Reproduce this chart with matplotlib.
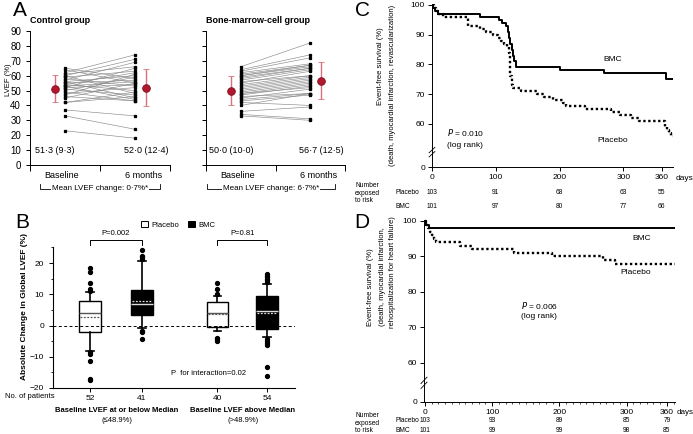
import matplotlib
matplotlib.use("Agg")
import matplotlib.pyplot as plt
import matplotlib.transforms as mtransforms
from matplotlib.lines import Line2D
from matplotlib.patches import Patch

plt.rcParams['font.family'] = ['Liberation Sans', 'DejaVu Sans']

# ---- Panel A: paired LVEF values (%)
ctrl_base = [65, 64, 62, 61, 60, 60, 59, 58, 57, 56, 56, 55, 54, 54, 53,
             53, 52, 52, 51, 50, 49, 48, 47, 46, 45, 42, 42, 37, 33, 23]
ctrl_6m = [58, 55, 74, 66, 71, 48, 63, 53, 69, 60, 45, 57, 62, 50, 56,
           44, 65, 54, 47, 59, 43, 52, 61, 43, 55, 49, 46, 33, 24, 18]
ctrl_mean = [51.3, 52.0]
ctrl_sd = [9.3, 12.4]

bmc_base = [66, 64, 63, 62, 61, 60, 60, 59, 58, 57, 56, 55, 54, 53, 52,
            51, 50, 49, 48, 48, 47, 46, 45, 44, 43, 42, 40, 36, 34, 33]
bmc_6m = [82, 74, 72, 68, 67, 67, 66, 65, 65, 64, 60, 63, 60, 59, 58,
          57, 56, 55, 54, 52, 53, 48, 51, 48, 47, 40, 48, 39, 31, 30]
bmc_mean = [50.0, 56.7]
bmc_sd = [10.0, 12.5]

# ---- Panel B: change in LVEF box plots
box_n = ['52', '41', '40', '54']
box_q1 = [-2.1, 3.4, -0.5, -1.1]
box_med = [4.0, 6.9, 4.0, 4.8]
box_q3 = [8.0, 11.4, 7.4, 9.4]
box_mean = [2.7, 7.8, 3.7, 3.9]
box_lo = [-8.0, -0.9, -1.6, -3.7]
box_hi = [10.8, 20.7, 9.6, 13.3]
box_fliers = [[18.4, 17.2, 13.6, 11.6, 11.0, -8.5, -9.0, -11.4, -17.0, -17.5],
              [24.2, 22.4, 21.9, 21.3, -1.6, -2.1, -4.3],
              [13.5, 11.7, 10.0, -3.9, -4.4, -5.1],
              [16.5, 16.0, 15.5, 15.0, 14.5, 14.0, -4.3, -4.9, -5.5, -6.1, -13.3, -16.0]]

# ---- Panel C: event-free survival (death, MI, revascularization)
c_bmc_days = [0, 2, 5, 10, 75, 105, 110, 116, 119, 121, 123, 125, 127, 129, 131, 200, 270, 367, 378]
c_bmc_surv = [100, 99, 98, 97, 96, 95, 94, 93, 91, 89, 87, 85, 83, 81, 79, 78, 77, 75, 75]
c_plc_days = [0, 3, 6, 10, 18, 57, 75, 85, 95, 103, 108, 113, 118, 120, 122, 123, 125, 127,
              140, 165, 175, 190, 205, 210, 240, 280, 295, 312, 325, 366, 369, 372, 375, 378]
c_plc_surv = [100, 99, 98, 97, 96, 93, 92, 91, 90, 89, 88, 87, 86, 84, 80, 76, 73, 72,
              71, 70, 69, 68, 67, 66, 65, 64, 63, 62, 61, 59, 58, 57, 56, 56]
c_risk_plc = [103, 91, 68, 63, 55]
c_risk_bmc = [101, 97, 80, 77, 66]

# ---- Panel D: event-free survival (death, MI, rehospitalization for HF)
d_bmc_days = [0, 2, 6, 372]
d_bmc_surv = [100, 99, 98, 98]
d_plc_days = [0, 2, 5, 8, 11, 14, 17, 52, 70, 132, 189, 265, 283, 372]
d_plc_surv = [100, 99, 98, 97, 96, 95, 94, 93, 92, 91, 90, 89, 88, 88]
d_risk_plc = [103, 93, 89, 85, 79]
d_risk_bmc = [101, 99, 99, 98, 85]

risk_days = [0, 100, 200, 300, 360]

W, H = 693, 434
fig = plt.figure(figsize=(W / 100, H / 100), dpi=100)
PX = mtransforms.Affine2D().scale(1 / W, -1 / H).translate(0, 1) + fig.transFigure


def add_ax(l, t, r, b):
    return fig.add_axes([l / W, 1 - b / H, (r - l) / W, (b - t) / H])


def px_line(xs, ys, **kw):
    fig.add_artist(Line2D(xs, ys, transform=PX, color='k', lw=0.6, **kw))


# ================= Panel A =================
def paired_panel(ax, base, six, means, sds, title, ylabels):
    for b, s in zip(base, six):
        ax.plot([0.5, 1.5], [b, s], color='#8a8a8a', lw=0.45)
    ax.plot([0.5] * len(base), base, 's', ms=1.4, color='k')
    ax.plot([1.5] * len(six), six, 's', ms=1.4, color='k')
    ax.errorbar([0.36, 1.66], means, yerr=sds, fmt='o', ms=5.5, mfc='#b3172e',
                mec='#7a0d1c', mew=0.6, ecolor='#d9727e', elinewidth=1, capsize=2.5)
    ax.set_xlim(0, 2)
    ax.set_ylim(0, 90)
    for s in ['top', 'right']:
        ax.spines[s].set_visible(False)
    for s in ['left', 'bottom']:
        ax.spines[s].set_linewidth(0.7)
    ax.set_xticks([0, 1, 2])
    ax.set_xticklabels([])
    ax.set_xticks([0.45, 1.62], minor=True)
    ax.set_xticklabels(['Baseline', '6 months'], minor=True, fontsize=6.5)
    ax.tick_params(axis='x', which='minor', length=0, pad=4)
    ax.tick_params(axis='x', which='major', length=4, width=0.7)
    ax.set_yticks(range(0, 91, 10))
    ax.tick_params(axis='y', length=3, width=0.7, labelsize=7, labelleft=ylabels)
    ax.text(0.36, 10, f"{means[0]:.1f} ({sds[0]:.1f})".replace('.', '·'),
            ha='center', va='center', fontsize=6.5)
    ax.text(1.66, 10, f"{means[1]:.1f} ({sds[1]:.1f})".replace('.', '·'),
            ha='center', va='center', fontsize=6.5)
    ax.text(0, 94, title, transform=ax.transData, fontsize=6.5, fontweight='bold',
            ha='left', va='bottom')


axA1 = add_ax(30, 31, 170, 165)
paired_panel(axA1, ctrl_base, ctrl_6m, ctrl_mean, ctrl_sd, 'Control group', True)
fig.text(8, 80, 'LVEF (%)', transform=PX, rotation=90, ha='center', va='center', fontsize=5.5)
axA2 = add_ax(206, 31, 345, 165)
paired_panel(axA2, bmc_base, bmc_6m, bmc_mean, bmc_sd, 'Bone-marrow-cell group', False)

for (x0, x1, txt) in [(40, 160, 'Mean LVEF change: 0·7%*'), (207, 335, 'Mean LVEF change: 6·7%*')]:
    px_line([x0, x0, x1, x1], [184, 189, 189, 184])
    fig.text((x0 + x1) / 2, 189, txt, transform=PX, ha='center', va='center', fontsize=5.8,
             bbox=dict(facecolor='white', edgecolor='none', pad=1))

fig.text(20, 11, 'A', transform=PX, fontsize=15, ha='center', va='center')

# ================= Panel B =================
axB = add_ax(53, 225.5, 295, 388)
pos = [1, 2, 3.45, 4.4]
fills = ['white', 'black', 'white', 'black']
medc = ['#555555', '#dddddd', '#555555', '#dddddd']
wbox = 0.42
for i in range(4):
    st = dict(med=box_med[i], q1=box_q1[i], q3=box_q3[i], whislo=box_lo[i],
              whishi=box_hi[i], fliers=box_fliers[i])
    axB.bxp([st], positions=[pos[i]], widths=wbox, patch_artist=True, showfliers=True,
            capwidths=[0.15],
            boxprops=dict(facecolor=fills[i], edgecolor='k', lw=1.0),
            medianprops=dict(color=medc[i], lw=1.0),
            whiskerprops=dict(color='k', lw=1.2),
            capprops=dict(color='k', lw=1.2),
            flierprops=dict(marker='o', ms=2.8, mfc='k', mec='k'))
    axB.hlines(box_mean[i], pos[i] - wbox / 2 + 0.02, pos[i] + wbox / 2 - 0.02,
               colors=medc[i], linestyles=(0, (1.5, 1.2)), lw=0.9)
axB.axhline(0, color='k', lw=0.7, ls=(0, (3, 2.5)))
axB.set_xlim(0.29, 4.94)
axB.set_ylim(-20, 32)
axB.spines['top'].set_visible(False)
axB.spines['right'].set_visible(False)
axB.spines['left'].set_bounds(-20, 25)
axB.set_yticks([-20, -10, 0, 10, 20])
axB.set_yticks([-15, -5, 5, 15, 25], minor=True)
axB.tick_params(axis='y', labelsize=6, length=3, width=0.7)
axB.tick_params(axis='y', which='minor', length=1.8, width=0.6)
axB.set_xticks(pos)
axB.set_xticklabels(box_n, fontsize=6)
axB.tick_params(axis='x', length=3, width=0.7, pad=2)
axB.set_ylabel('Absolute Change in Global LVEF (%)', fontsize=6, fontweight='bold', labelpad=1)
for (a, b, txt) in [(pos[0], pos[1], 'P=0.002'), (pos[2], pos[3], 'P=0.81')]:
    axB.plot([a, a, b, b], [25.8, 27.4, 27.4, 25.8], color='k', lw=0.7)
    axB.text((a + b) / 2, 28.3, txt, ha='center', va='bottom', fontsize=5.5)
axB.text(2.55, -15.3, 'P  for interaction=0.02', ha='left', va='center', fontsize=5.5)
axB.legend(handles=[Patch(facecolor='white', edgecolor='k', lw=0.7, label='Placebo'),
                    Patch(facecolor='black', edgecolor='k', lw=0.7, label='BMC')],
           loc='center', bbox_to_anchor=(178 / W, 1 - 225 / H), bbox_transform=fig.transFigure,
           ncol=2, frameon=False, fontsize=5.5, handlelength=0.9, handleheight=0.9,
           handletextpad=0.4, columnspacing=1.2)
fig.text(5, 397, 'No. of patients', transform=PX, ha='left', va='center', fontsize=5.5)
fig.text(117, 411, 'Baseline LVEF at or below Median', transform=PX, ha='center', va='center',
         fontsize=5.5, fontweight='bold')
fig.text(117, 421, '(≤48.9%)', transform=PX, ha='center', va='center', fontsize=5.5)
fig.text(243, 411, 'Baseline LVEF above Median', transform=PX, ha='center', va='center',
         fontsize=5.5, fontweight='bold')
fig.text(243, 421, '(>48.9%)', transform=PX, ha='center', va='center', fontsize=5.5)
fig.text(22, 223, 'B', transform=PX, fontsize=15, ha='center', va='center')


# ================= Panels C & D =================
def km_panel(ax, bd, bs, pd_, ps, ymin, ybreak, xmin, xmax, dminor):
    ax.plot(bd, bs, drawstyle='steps-post', color='k', lw=1.4)
    ax.plot(pd_, ps, drawstyle='steps-post', color='k', lw=1.7,
            linestyle=(0, (1, 1.1)), dash_capstyle='butt')
    ax.set_xlim(xmin, xmax)
    ax.set_ylim(ymin, 100.5)
    for s in ['top', 'right']:
        ax.spines[s].set_visible(False)
    for s in ['left', 'bottom']:
        ax.spines[s].set_linewidth(0.7)
    ax.spines['left'].set_bounds(ymin, 100)
    ax.spines['bottom'].set_bounds(0, xmax)
    ax.set_yticks([ymin, 60, 70, 80, 90, 100])
    ax.set_yticklabels(['0', '60', '70', '80', '90', '100'])
    ax.set_xticks(risk_days)
    if dminor:
        ax.set_xticks(range(10, int(xmax), 10), minor=True)
        ax.tick_params(axis='x', which='minor', length=1.5, width=0.5)
    ax.tick_params(labelsize=6, length=3, width=0.7, pad=2)
    # axis break
    tb = mtransforms.blended_transform_factory(ax.transAxes, ax.transData)
    ax.plot([0, 0], [ybreak - 0.8, ybreak + 0.8], color='white', lw=2.5, transform=tb, clip_on=False)
    for dy in (-0.7, 0.7):
        ax.plot([-0.012, 0.012], [ybreak + dy - 0.9, ybreak + dy + 0.9], color='k', lw=0.6,
                transform=tb, clip_on=False)


def risk_table(ax, plc, bmc, y_num, y_plc, y_bmc):
    tr = mtransforms.blended_transform_factory(ax.transData, PX)
    fig.text(355, y_num, 'Number\nexposed\nto risk', transform=PX, ha='left', va='top',
             fontsize=4.8, linespacing=1.15)
    fig.text(395, y_plc, 'Placebo', transform=PX, ha='left', va='center', fontsize=4.8)
    fig.text(395, y_bmc, 'BMC', transform=PX, ha='left', va='center', fontsize=4.8)
    for d, p, b in zip(risk_days, plc, bmc):
        ax.text(d, y_plc, str(p), transform=tr, ha='center', va='center', fontsize=4.8)
        ax.text(d, y_bmc, str(b), transform=tr, ha='center', va='center', fontsize=4.8)


axC = add_ax(432, 3.5, 673, 167)
km_panel(axC, c_bmc_days, c_bmc_surv, c_plc_days, c_plc_surv, 45.5, 50.5, 0, 378, False)
axC.text(283, 81.5, 'BMC', ha='center', va='center', fontsize=6)
axC.text(283, 54.5, 'Placebo', ha='center', va='center', fontsize=6)
axC.text(23, 57.2, '$P$ = 0.010', ha='left', va='center', fontsize=6)
axC.text(23, 52.9, '(log rank)', ha='left', va='center', fontsize=6)
fig.text(684, 178, 'days', transform=PX, ha='center', va='center', fontsize=6)
fig.text(380, 66, 'Event-free survival (%)', transform=PX, rotation=90, ha='center',
         va='center', fontsize=5.5)
fig.text(392, 85, '(death, myocardial infarction, revascularization)', transform=PX,
         rotation=90, ha='center', va='center', fontsize=5.5)
risk_table(axC, c_risk_plc, c_risk_bmc, 182, 193, 206)
fig.text(362, 11, 'C', transform=PX, fontsize=15, ha='center', va='center')

axD = add_ax(424, 219.2, 675, 402)
km_panel(axD, d_bmc_days, d_bmc_surv, d_plc_days, d_plc_surv, 49, 54.4, -1.5, 372, True)
axD.text(323, 95.2, 'BMC', ha='center', va='center', fontsize=6)
axD.text(314, 85.4, 'Placebo', ha='center', va='center', fontsize=6)
axD.text(170, 76.3, '$P$ = 0.006', ha='center', va='center', fontsize=6)
axD.text(170, 73.2, '(log rank)', ha='center', va='center', fontsize=6)
fig.text(685, 412, 'days', transform=PX, ha='center', va='center', fontsize=5.8)
fig.text(370, 287, 'Event-free survival (%)', transform=PX, rotation=90, ha='center',
         va='center', fontsize=5.5)
fig.text(382, 277, '(death, myocardial infarction,', transform=PX, rotation=90, ha='center',
         va='center', fontsize=5.5)
fig.text(393, 272, 'rehospitalization for heart failure)', transform=PX, rotation=90,
         ha='center', va='center', fontsize=5.5)
risk_table(axD, d_risk_plc, d_risk_bmc, 412, 421, 430)
fig.text(362, 223, 'D', transform=PX, fontsize=15, ha='center', va='center')

fig.savefig('out.png', dpi=100)
